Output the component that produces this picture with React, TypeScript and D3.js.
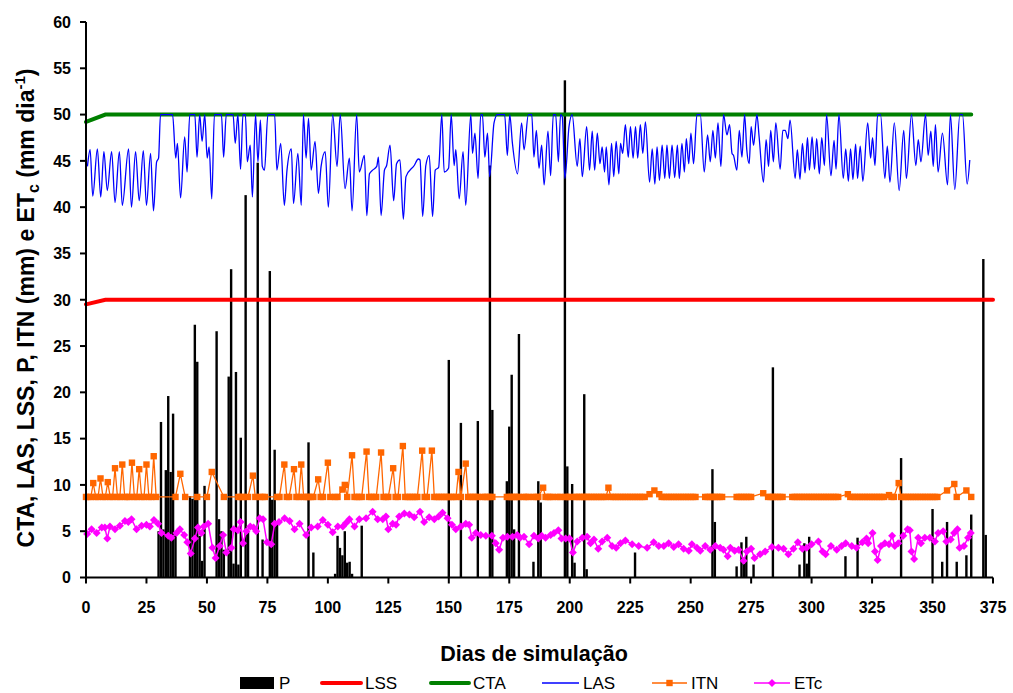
import React from 'react';
import * as d3 from 'd3';

const W = 1013;
const H = 693;
const FONT = "'Liberation Sans', Arial, Helvetica, sans-serif";

const xTicks = [0, 25, 50, 75, 100, 125, 150, 175, 200, 225, 250, 275, 300, 325, 350, 375];
const yTicks = [0, 5, 10, 15, 20, 25, 30, 35, 40, 45, 50, 55, 60];

// P (precipitation) bars
const pDays = [30,31,32,33,34,35,36,37,43,44,45,46,47,48,49,54,55,56,57,59,60,61,62,63,64,66,67,71,73,76,77,78,79,92,94,103,104,105,106,107,108,109,110,114,150,155,162,167,168,174,175,176,177,179,185,187,188,198,199,201,202,206,207,227,259,260,269,271,272,273,276,284,295,297,298,299,314,319,337,350,354,356,360,364,366,371,372];
const pValues = [5.0,16.8,5.2,11.6,19.6,11.4,17.7,4.8,8.8,8.5,27.3,23.3,4.5,1.8,9.9,26.6,6.3,5.0,3.0,21.7,33.3,1.5,22.2,1.4,15.1,41.3,5.0,44.8,4.1,33.1,8.4,13.8,6.0,14.6,2.7,0.4,4.5,3.2,2.4,5.0,1.6,1.7,0.4,5.6,23.5,16.7,16.9,44.5,18.1,10.4,16.3,21.9,5.2,26.3,1.7,10.4,8.1,53.7,12.0,10.1,1.6,19.8,0.9,2.7,11.7,6.0,1.2,3.8,1.5,4.4,1.4,22.7,1.4,3.7,1.5,4.4,2.3,4.3,12.9,7.4,1.7,6.0,1.7,2.4,6.8,34.4,4.6];

// LSS and CTA
const lssDays = [0, 8, 375];
const lssValues = [29.5, 30, 30];
const ctaDays = [0, 8, 366];
const ctaValues = [49.2, 50, 50];

// LAS
const lasSeries: [number, number][] = [[0.6,44.4],[1.7,46.2],[2.8,41.2],[4.7,46.3],[6.1,41.1],[7.4,46.0],[8.8,41.8],[10.6,46.0],[12.0,40.5],[13.8,46.0],[15.0,40.2],[17.6,46.3],[18.8,40.0],[20.5,46.0],[22.0,40.7],[23.7,46.1],[25.0,40.2],[26.7,45.8],[27.9,39.6],[29.2,44.9],[30.0,45.3],[30.8,50],[35.8,50],[37.1,45.3],[37.8,46.9],[39.1,41.0],[40.8,47.6],[41.8,43.8],[42.9,50],[45.0,50],[45.9,45.4],[47.0,50],[48.0,47.1],[49.1,50],[50.1,45.3],[50.9,46.5],[52.0,40.9],[53.1,50],[56.0,50],[56.9,45.4],[58.0,50],[60.8,50],[61.7,46.9],[62.8,50],[63.9,44.1],[64.9,50],[65.9,50],[66.7,44.9],[67.9,46.7],[68.8,41.1],[70.1,50],[71.1,44.9],[72.1,49.4],[72.9,44.4],[73.8,44.0],[75.2,50],[78.0,50],[78.9,44.0],[80.5,46.9],[82.0,40.2],[83.1,44.0],[84.9,46.3],[85.8,40.4],[87.6,45.8],[89.0,40.2],[89.9,50],[91.0,45.3],[92.0,49.6],[93.1,44.0],[94.7,47.1],[96.1,41.5],[97.2,44.4],[98.9,46.0],[100.2,40.0],[102.0,50],[103.8,44.4],[105.1,50],[107.1,42.0],[108.9,45.3],[110.0,39.6],[111.9,50],[113.0,43.8],[115.1,45.6],[116.1,39.1],[117.2,43.6],[118.5,44.0],[120.2,44.4],[120.9,45.4],[122.0,39.1],[123.4,44.0],[124.3,44.5],[125.7,46.7],[127.2,40.7],[128.4,44.7],[129.8,45.1],[131.2,38.7],[132.3,43.3],[135.7,44.5],[137.4,45.2],[138.1,45.1],[139.2,39.0],[140.5,44.5],[141.9,45.6],[143.3,39.0],[144.4,44.0],[145.8,44.3],[147.1,50],[148.1,43.8],[149.9,44.2],[151.0,50],[152.2,44.5],[152.9,46.2],[154.3,40.9],[155.9,46.0],[157.0,40.2],[159.1,50],[159.8,45.8],[160.8,48.0],[162.1,43.1],[163.2,50],[163.9,50],[164.9,45.4],[166.0,48.0],[166.9,43.3],[168.7,49.1],[170.1,50],[173.1,50],[174.2,45.6],[175.2,50],[176.3,46.9],[178.4,43.6],[180.1,49.1],[181.1,46.2],[182.9,50],[184.3,50],[185.2,45.4],[186.2,48.3],[187.3,44.2],[188.4,46.7],[189.4,42.4],[191.0,48.2],[192.1,43.4],[193.2,50],[194.2,50],[195.3,44.9],[196.2,50],[196.9,49.8],[198.0,43.1],[199.7,48.7],[201.0,50],[203.1,44.4],[204.2,47.4],[205.2,43.3],[207.0,48.7],[208.2,44.0],[209.3,48.2],[210.3,44.0],[211.4,48.0],[212.5,44.7],[213.4,46.5],[214.4,43.8],[215.1,46.5],[216.2,42.4],[217.3,46.9],[218.2,43.3],[219.2,47.1],[220.3,43.6],[221.0,46.9],[221.9,45.8],[223.0,48.9],[224.2,45.4],[225.1,48.7],[226.2,45.3],[227.2,48.7],[228.1,45.3],[229.2,48.9],[230.2,45.8],[231.3,49.2],[233.0,42.7],[234.1,46.3],[235.2,42.5],[236.1,46.5],[237.1,42.9],[238.2,46.7],[239.3,43.1],[240.2,46.7],[241.2,43.1],[242.3,46.7],[243.4,43.2],[244.5,46.7],[245.3,43.1],[246.4,46.9],[247.4,43.8],[248.2,47.4],[249.2,44.7],[250.1,48.0],[251.2,44.7],[252.6,50],[254.0,50],[255.6,43.8],[257.0,47.8],[258.1,44.9],[259.2,48.3],[260.2,45.3],[261.3,49.1],[262.5,44.4],[263.6,50],[265.0,47.8],[266.1,48.9],[267.1,45.8],[267.7,45.6],[269.1,44.0],[270.1,48.3],[271.2,45.4],[272.3,50],[273.2,46.2],[274.2,44.7],[275.0,48.7],[276.0,46.7],[277.4,50],[278.3,47.6],[280.1,42.7],[281.2,47.3],[282.2,44.4],[283.1,48.3],[284.2,44.9],[285.2,49.1],[287.0,44.1],[288.1,48.3],[289.1,48.3],[290.2,47.4],[291.1,49.4],[293.2,43.1],[294.1,46.2],[295.2,43.0],[296.2,46.9],[297.3,43.7],[298.3,47.5],[299.1,44.0],[300.2,47.6],[301.2,44.1],[302.1,47.4],[303.2,43.6],[304.2,47.5],[305.3,44.5],[306.2,50],[308.0,43.4],[309.3,47.2],[310.1,44.1],[311.3,50],[313.1,43.1],[314.1,46.3],[315.2,42.8],[316.1,46.3],[317.1,43.0],[318.2,46.8],[319.0,43.1],[320.1,46.6],[321.2,42.8],[323.2,49.1],[324.4,45.3],[325.2,47.5],[326.2,44.5],[327.3,50],[328.5,50],[330.3,43.1],[331.3,46.6],[332.4,42.7],[334.2,49.1],[336.2,41.8],[338.1,48.3],[339.2,43.1],[341.3,50],[343.1,44.5],[344.1,47.3],[345.2,44.9],[347.1,50],[348.2,45.6],[349.3,48.2],[350.3,44.4],[351.2,48.9],[352.3,43.8],[354.1,48.0],[356.2,42.4],[357.4,50],[359.2,41.9],[361.3,50],[362.4,50],[364.3,42.5],[365.4,45.1]];

// ITN: runs of days at the base level, plus the days above it
const itnBase = 8.7;
const itnBaseRuns: [number, number][] = [[0,2],[4,5],[7,8],[10,11],[13,14],[16,18],[20,21],[23,24],[26,27],[29,29],[37,37],[41,41],[46,46],[50,50],[57,57],[63,65],[67,67],[70,70],[72,74],[79,80],[83,84],[87,88],[90,94],[97,98],[101,101],[103,104],[108,108],[111,114],[117,120],[123,125],[128,129],[132,137],[140,141],[144,153],[155,155],[158,162],[164,168],[174,179],[181,183],[185,187],[190,193],[195,196],[198,200],[202,215],[217,231],[238,252],[256,263],[269,275],[282,288],[292,311],[316,330],[333,334],[337,352],[360,360],[366,366]];
const itnPeaks: [number, number][] = [[3,10.2],[6,10.7],[9,10.3],[12,11.8],[15,12.2],[19,12.4],[22,11.7],[25,12.2],[28,13.1],[39,11.2],[52,11.4],[69,11.0],[82,12.2],[86,11.7],[89,12.2],[96,10.6],[100,12.4],[106,9.5],[107,10.0],[110,13.2],[116,13.6],[122,13.5],[127,11.8],[131,14.2],[139,13.7],[143,13.7],[154,11.4],[157,12.3],[189,9.7],[216,9.7],[233,9.0],[235,9.4],[237,9.0],[280,9.1],[315,9.0],[332,8.9],[336,10.2],[356,9.4],[359,10.1],[364,9.4]];

// ETc
const etcSeries: [number, number][] = [[0.5,4.7],[2.3,5.2],[4.4,4.8],[6.5,5.4],[7.8,5.4],[8.8,4.2],[9.9,5.5],[12.0,5.2],[14.0,5.6],[16.1,6.1],[17.5,6.0],[18.8,6.3],[20.9,5.2],[23.0,5.6],[25.0,5.7],[26.4,5.5],[28.1,6.2],[29.8,5.8],[31.2,4.8],[34.0,4.5],[35.3,4.3],[37.4,4.8],[38.8,5.2],[40.6,4.6],[41.9,3.8],[43.3,2.6],[45.0,4.2],[46.3,5.4],[47.7,4.8],[48.7,5.5],[50.5,5.8],[52.3,3.2],[53.6,2.1],[55.3,3.4],[56.7,4.6],[58.0,2.7],[60.1,3.2],[61.1,5.2],[62.8,5.1],[63.9,6.0],[64.9,3.7],[66.3,5.0],[67.9,5.5],[69.3,5.4],[70.4,5.0],[71.8,6.4],[73.2,6.3],[74.8,3.8],[76.6,3.6],[78.0,5.8],[79.8,6.0],[82.1,6.4],[84.2,6.1],[86.2,5.2],[88.3,5.8],[91.0,4.6],[93.1,5.4],[95.8,5.5],[97.9,6.2],[100.0,5.7],[102.0,4.9],[104.1,5.5],[106.2,5.5],[107.5,5.9],[108.9,6.3],[111.0,5.5],[113.0,6.3],[115.8,6.4],[118.5,7.1],[120.6,6.3],[122.7,6.3],[124.0,6.6],[125.0,5.2],[126.8,5.8],[128.2,5.7],[129.5,6.6],[131.6,6.9],[133.7,6.8],[135.7,6.5],[138.1,7.1],[139.8,6.0],[141.9,6.5],[144.0,6.3],[145.8,6.6],[147.4,7.0],[149.5,6.4],[151.3,5.7],[152.9,5.2],[155.0,5.5],[157.0,5.8],[158.4,5.7],[159.5,4.3],[161.2,4.8],[163.2,4.6],[165.3,4.5],[167.8,4.5],[169.4,3.7],[170.8,3.0],[172.4,4.3],[174.2,4.4],[176.3,4.4],[178.3,4.6],[179.5,4.3],[181.1,4.4],[183.2,3.6],[185.2,4.5],[187.0,4.2],[188.4,4.5],[190.0,4.3],[192.1,4.6],[193.5,4.8],[195.3,5.1],[196.6,4.2],[198.3,4.2],[199.9,4.2],[201.3,2.7],[203.1,3.9],[205.2,4.3],[207.2,4.4],[208.6,3.7],[210.0,4.1],[211.8,3.1],[213.4,3.9],[215.5,4.3],[217.5,3.4],[219.2,3.2],[221.0,3.7],[223.0,4.0],[225.8,3.6],[228.5,3.4],[232.0,3.2],[234.7,3.8],[236.8,3.4],[238.9,3.4],[240.9,3.7],[243.0,3.3],[245.0,3.6],[247.1,3.1],[249.2,2.9],[250.5,3.6],[252.6,3.2],[254.0,2.9],[256.0,3.4],[258.1,3.0],[260.2,3.4],[262.2,3.2],[263.6,3.0],[265.3,2.3],[266.4,3.2],[268.2,2.9],[269.8,3.0],[271.9,1.8],[273.2,2.8],[275.0,3.1],[276.4,2.1],[278.7,2.5],[280.8,2.8],[283.6,3.3],[286.3,3.2],[288.4,3.1],[290.4,2.5],[292.5,3.1],[294.3,3.8],[296.2,3.1],[298.0,3.2],[300.0,3.6],[302.8,3.9],[304.5,2.8],[305.8,2.5],[308.0,3.4],[310.4,3.0],[312.4,3.4],[314.1,3.7],[316.6,3.4],[318.6,3.2],[321.0,3.8],[322.7,4.2],[323.4,3.7],[325.2,4.8],[326.2,2.8],[327.3,1.9],[328.7,3.4],[330.3,3.7],[332.0,3.6],[333.3,4.5],[334.4,3.4],[335.8,3.7],[337.9,4.5],[339.7,5.2],[340.6,5.1],[341.3,2.8],[342.4,2.0],[344.1,4.3],[345.2,3.7],[346.8,4.3],[348.9,4.3],[351.0,3.9],[352.3,4.8],[354.4,5.0],[355.7,3.9],[357.5,4.1],[358.9,4.8],[360.3,5.2],[361.2,3.2],[363.0,3.4],[364.7,4.3],[365.8,4.8]];

const COLORS: Record<string, string> = {
  P: '#000000',
  LSS: '#FF0000',
  CTA: '#008000',
  LAS: '#0000FF',
  ITN: '#FF6600',
  ETc: '#FF00FF',
};

function diamondPath(cx: number, cy: number, r: number) {
  return `M${cx},${cy - r}L${cx + r},${cy}L${cx},${cy + r}L${cx - r},${cy}Z`;
}

export default function App() {
  const x = d3.scaleLinear().domain([0, 375]).range([86, 993]);
  const y = d3.scaleLinear().domain([0, 60]).range([577.5, 22]);

  const line = d3.line<[number, number]>().x((d) => x(d[0])).y((d) => y(d[1]));
  const smooth = d3
    .line<[number, number]>()
    .x((d) => x(d[0]))
    .y((d) => y(d[1]))
    .curve(d3.curveMonotoneX);

  const lss: [number, number][] = lssDays.map((d, i) => [d, lssValues[i]]);
  const cta: [number, number][] = ctaDays.map((d, i) => [d, ctaValues[i]]);

  const itnPoints: [number, number][] = [];
  itnBaseRuns.forEach(([a, b]) => {
    for (let d = a; d <= b; d++) itnPoints.push([d, itnBase]);
  });
  itnPeaks.forEach((p) => itnPoints.push(p));
  itnPoints.sort((a, b) => a[0] - b[0]);

  const barW = 2.4;

  const legendLayout = [
    { key: 'P', x0: 240, x1: 274, tx: 279 },
    { key: 'LSS', x0: 322, x1: 361, tx: 365 },
    { key: 'CTA', x0: 431, x1: 469, tx: 473 },
    { key: 'LAS', x0: 542, x1: 579, tx: 583 },
    { key: 'ITN', x0: 652, x1: 687, tx: 691 },
    { key: 'ETc', x0: 754, x1: 790, tx: 794 },
  ];
  const ly = 683;

  return (
    <svg
      width={W}
      height={H}
      viewBox={`0 0 ${W} ${H}`}
      style={{ position: 'absolute', left: 0, top: 0, background: '#fff' }}
      fontFamily={FONT}
    >
      <rect x={0} y={0} width={W} height={H} fill="#fff" />

      {/* P bars */}
      <g>
        {pDays.map((d, i) => (
          <rect
            key={'p' + i}
            x={x(d) - barW / 2}
            y={y(pValues[i])}
            width={barW}
            height={y(0) - y(pValues[i])}
            fill={COLORS.P}
          />
        ))}
      </g>

      {/* LSS */}
      <path d={line(lss) || ''} fill="none" stroke={COLORS.LSS} strokeWidth={4} strokeLinecap="round" />
      {/* CTA */}
      <path d={line(cta) || ''} fill="none" stroke={COLORS.CTA} strokeWidth={4} strokeLinecap="round" />
      {/* LAS */}
      <path d={smooth(lasSeries) || ''} fill="none" stroke={COLORS.LAS} strokeWidth={1.3} strokeLinejoin="round" />

      {/* ITN */}
      <path d={line(itnPoints) || ''} fill="none" stroke={COLORS.ITN} strokeWidth={1.3} />
      {itnPoints.map((p, i) => (
        <rect key={'i' + i} x={x(p[0]) - 3.2} y={y(p[1]) - 3.2} width={6.4} height={6.4} fill={COLORS.ITN} />
      ))}

      {/* ETc */}
      <path d={line(etcSeries) || ''} fill="none" stroke={COLORS.ETc} strokeWidth={1.5} />
      {etcSeries.map((p, i) => (
        <path key={'e' + i} d={diamondPath(x(p[0]), y(p[1]), 4)} fill={COLORS.ETc} />
      ))}

      {/* Axes */}
      <line x1={x(0)} x2={x(0)} y1={y(60)} y2={y(0)} stroke="#000" strokeWidth={2} />
      <line x1={x(0)} x2={x(375)} y1={y(0)} y2={y(0)} stroke="#000" strokeWidth={2} />
      {yTicks.map((t) => (
        <g key={'yt' + t}>
          <line x1={x(0) - 6} x2={x(0)} y1={y(t)} y2={y(t)} stroke="#000" strokeWidth={2} />
          <text
            x={71}
            y={y(t)}
            dy="0.36em"
            textAnchor="end"
            fontSize={16}
            fontWeight="bold"
            fill="#000"
          >
            {t}
          </text>
        </g>
      ))}
      {xTicks.map((t) => (
        <g key={'xt' + t}>
          <line x1={x(t)} x2={x(t)} y1={y(0)} y2={y(0) + 6} stroke="#000" strokeWidth={2} />
          <text x={x(t)} y={613} textAnchor="middle" fontSize={16} fontWeight="bold" fill="#000">
            {t}
          </text>
        </g>
      ))}

      {/* Axis titles */}
      <text x={534} y={661} textAnchor="middle" fontSize={21.5} fontWeight="bold" fill="#000">
        Dias de simulação
      </text>
      <text
        transform="translate(34,308) rotate(-90)"
        textAnchor="middle"
        fontSize={23}
        fontWeight="bold"
        fill="#000"
      >
        CTA, LAS, LSS, P, ITN (mm) e ET
        <tspan fontSize={16} dy={5}>c</tspan>
        <tspan dy={-5}> (mm dia</tspan>
        <tspan fontSize={15} dy={-9}>-1</tspan>
        <tspan dy={9}>)</tspan>
      </text>

      {/* Legend */}
      {legendLayout.map((l) => {
        const c = COLORS[l.key];
        let mark: React.ReactNode = null;
        if (l.key === 'P') {
          mark = <rect x={l.x0} y={ly - 6} width={l.x1 - l.x0} height={12} fill={c} />;
        } else if (l.key === 'LSS' || l.key === 'CTA') {
          mark = <line x1={l.x0} x2={l.x1} y1={ly} y2={ly} stroke={c} strokeWidth={4} strokeLinecap="round" />;
        } else if (l.key === 'LAS') {
          mark = <line x1={l.x0} x2={l.x1} y1={ly} y2={ly} stroke={c} strokeWidth={1.3} />;
        } else if (l.key === 'ITN') {
          const mx = (l.x0 + l.x1) / 2;
          mark = (
            <g>
              <line x1={l.x0} x2={l.x1} y1={ly} y2={ly} stroke={c} strokeWidth={1.3} />
              <rect x={mx - 3.2} y={ly - 3.2} width={6.4} height={6.4} fill={c} />
            </g>
          );
        } else {
          const mx = (l.x0 + l.x1) / 2;
          mark = (
            <g>
              <line x1={l.x0} x2={l.x1} y1={ly} y2={ly} stroke={c} strokeWidth={1.3} />
              <path d={diamondPath(mx, ly, 4)} fill={c} />
            </g>
          );
        }
        return (
          <g key={'lg' + l.key}>
            {mark}
            <text x={l.tx} y={ly + 5.5} fontSize={17} fill="#000">
              {l.key}
            </text>
          </g>
        );
      })}
    </svg>
  );
}
